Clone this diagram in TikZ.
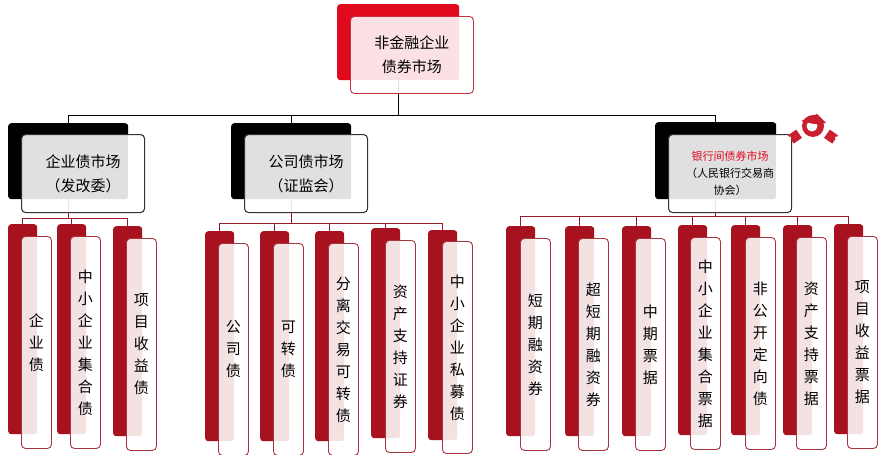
\documentclass[tikz,border=0pt]{standalone}
\usepackage{fontspec}
\newfontfamily\cjk{Noto Sans CJK SC}
\usetikzlibrary{backgrounds}
\definecolor{topred}{HTML}{E00A1E}
\definecolor{iconred}{HTML}{C8202E}
\definecolor{leafred}{HTML}{A8121F}
\definecolor{leafedge}{HTML}{A8343F}
\definecolor{topedge}{HTML}{C83040}
\definecolor{lineRed}{HTML}{9A1A28}
\definecolor{edgegray}{HTML}{333333}
\tikzset{
 back/.style={rounded corners=3pt, inner sep=0pt, anchor=north west},
 frontbox/.style={fill=white, fill opacity=0.88, text opacity=1, rounded corners=4pt, line width=0.9pt, inner sep=0pt, anchor=north west, align=center},
 midbox/.style={frontbox, draw=edgegray, line width=1.1pt, minimum width=123pt, minimum height=78pt},
 leafbox/.style={frontbox, draw=leafedge, minimum width=30pt, minimum height=212pt, font=\cjk\fontsize{15}{22}\selectfont},
 leafback/.style={back, fill=leafred, minimum width=29pt, minimum height=210pt},
 conn/.style={draw=lineRed, line width=0.8pt},
 mainconn/.style={draw=black, line width=0.9pt},
}
\newcommand\leaf[6]{%
 \node[leafback] (#1b) at (#2,#3) {};
 \node[leafbox] (#1) at (#4,#5) {#6};}
\begin{document}
\begin{tikzpicture}[x=1pt,y=-1pt]
\useasboundingbox (0,0) rectangle (886,455);
% top
\node[back, fill=topred, minimum width=122pt, minimum height=76pt] (Tb) at (337,4) {};
\node[frontbox, draw=topedge, minimum width=123pt, minimum height=77pt, font=\cjk\fontsize{15}{24}\selectfont] (T) at (350,16) {非金融企业\\债券市场};
% level 2
\node[back, fill=black, minimum width=120pt, minimum height=76pt] (Ab) at (8,123) {};
\node[midbox, font=\cjk\fontsize{15}{24}\selectfont] (A) at (21,134) {企业债市场\\（发改委）};
\node[back, fill=black, minimum width=120pt, minimum height=76pt] (Bb) at (231,123) {};
\node[midbox, font=\cjk\fontsize{15}{24}\selectfont] (B) at (244,134) {公司债市场\\（证监会）};
\node[back, fill=black, minimum width=121pt, minimum height=77pt] (Cb) at (655,122) {};
\node[midbox, font=\cjk\fontsize{11}{17}\selectfont] (C) at (668,134) {\textcolor{topred}{银行间债券市场}\\（人民银行交易商\\协会）};
% handshake icon
\begin{scope}[shift={(813,124)}]
 \fill[iconred, rotate=35] (-27,-5) rectangle (-17,5);
 \fill[iconred, rotate=-35] (17,-5) rectangle (27,5);
 \fill[iconred] (0,2) circle (11);
 \fill[white] (-1,2) circle (5.5);
 \fill[iconred] (-12,-3) -- (4,-10) -- (13,-1) -- (1,0) -- cycle;
 \fill[white, rotate=35] (-27,-2) circle (1.5);
 \fill[white, rotate=-35] (27,-2) circle (1.5);
\end{scope}
% leaves left
\leaf{L1}{8}{224}{21}{236}{企\\业\\债}
\leaf{L2}{57}{224}{70}{236}{中\\小\\企\\业\\集\\合\\债}
\leaf{L3}{113}{226}{126}{238}{项\\目\\收\\益\\债}
% leaves middle
\leaf{M1}{205}{231}{218}{243}{公\\司\\债}
\leaf{M2}{260}{231}{273}{243}{可\\转\\债}
\leaf{M3}{315}{231}{328}{243}{分\\离\\交\\易\\可\\转\\债}
\leaf{M4}{371}{228}{385}{240}{资\\产\\支\\持\\证\\券}
\leaf{M5}{428}{230}{442}{241}{中\\小\\企\\业\\私\\募\\债}
% leaves right
\leaf{R1}{506}{226}{520}{238}{短\\期\\融\\资\\券}
\leaf{R2}{565}{226}{578}{238}{超\\短\\期\\融\\资\\券}
\leaf{R3}{622}{226}{635}{238}{中\\期\\票\\据}
\leaf{R4}{678}{225}{690}{237}{中\\小\\企\\业\\集\\合\\票\\据}
\leaf{R5}{731}{225}{745}{237}{非\\公\\开\\定\\向\\债}
\leaf{R6}{783}{225}{796}{237}{资\\产\\支\\持\\票\\据}
\leaf{R7}{834}{224}{847}{236}{项\\目\\收\\益\\票\\据}
\begin{pgfonlayer}{background}
 \draw[mainconn] (Tb.south) -- ++(0,35) -| (Ab.north);
 \draw[mainconn] (Tb.south) -- ++(0,35) -| (Bb.north);
 \draw[mainconn] (Tb.south) -- ++(0,35) -| (Cb.north);
 \foreach \l in {L1,L2,L3}{\draw[conn] (Ab.south) -- ++(0,19) -| (\l b.north);}
 \foreach \l in {M1,M2,M3,M4,M5}{\draw[conn] (Bb.south) -- ++(0,24) -| (\l b.north);}
 \foreach \l in {R1,R2,R3,R4,R5,R6,R7}{\draw[conn] (Cb.south) -- ++(0,17) -| (\l b.north);}
\end{pgfonlayer}
\end{tikzpicture}
\end{document}
